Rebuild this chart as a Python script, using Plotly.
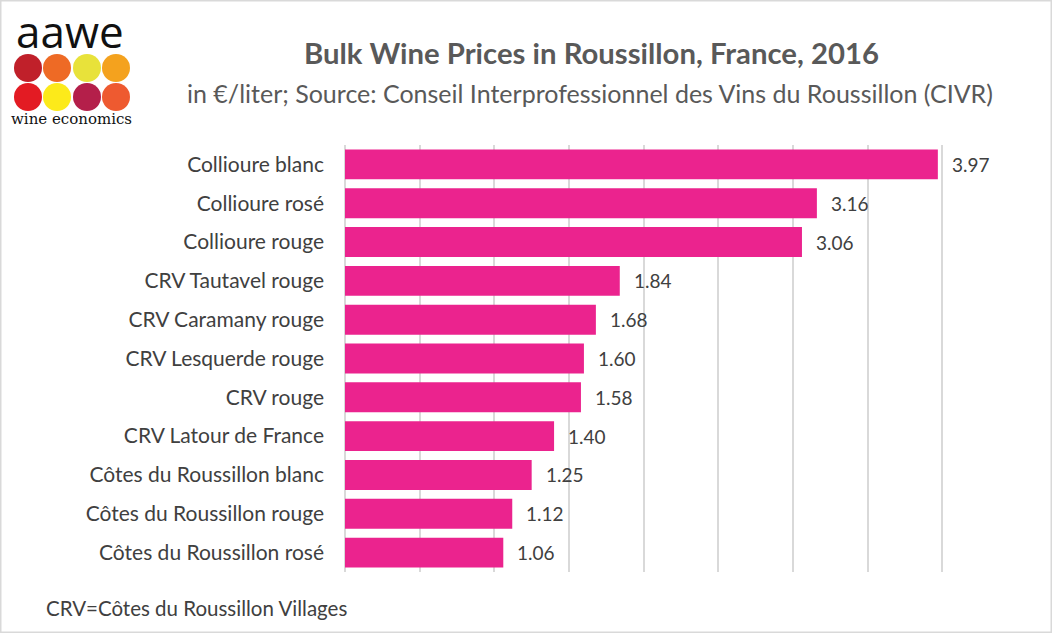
import plotly.graph_objects as go

categories = [
    "Collioure blanc", "Collioure rosé", "Collioure rouge", "CRV Tautavel rouge",
    "CRV Caramany rouge", "CRV Lesquerde rouge", "CRV rouge", "CRV Latour de France",
    "Côtes du Roussillon blanc", "Côtes du Roussillon rouge", "Côtes du Roussillon rosé",
]
prices = [3.97, 3.16, 3.06, 1.84, 1.68, 1.60, 1.58, 1.40, 1.25, 1.12, 1.06]
value_labels = [f"{v:.2f}" for v in prices]

title = "Bulk Wine Prices in Roussillon, France, 2016"
subtitle = "in €/liter; Source: Conseil Interprofessionnel des Vins du Roussillon (CIVR)"
footnote = "CRV=Côtes du Roussillon Villages"

W, H = 1052, 633
L, R, T, B = 345, 35, 145, 61
PW, PH = W - L - R, H - T - B
FONT = "Lato"
GREY = "#595959"

def px(x):
    return (x - L) / PW

def py(y):
    return (H - B - y) / PH

fig = go.Figure()
fig.add_trace(go.Bar(
    y=categories, x=prices, orientation="h",
    marker=dict(color="#EB238E", line=dict(width=0)),
    hoverinfo="skip",
))

annotations = []
for c, v, t in zip(categories, prices, value_labels):
    annotations.append(dict(x=v, y=c, xref="x", yref="y", text=t, showarrow=False,
                            xanchor="left", xshift=12, font=dict(size=19, color="#404040", family=FONT)))

annotations += [
    dict(x=px(591), y=py(53), xref="paper", yref="paper", text=f"<b>{title}</b>", showarrow=False,
         xanchor="center", yanchor="middle", font=dict(size=29.3, color=GREY, family=FONT)),
    dict(x=px(590), y=py(93), xref="paper", yref="paper", text=subtitle, showarrow=False,
         xanchor="center", yanchor="middle", font=dict(size=25, color=GREY, family=FONT)),
    dict(x=px(44), y=py(608), xref="paper", yref="paper", text=footnote, showarrow=False,
         xanchor="left", yanchor="middle", font=dict(size=20.5, color="#404040", family=FONT)),
    dict(x=px(70), y=py(31), xref="paper", yref="paper", text="aawe", showarrow=False,
         xanchor="center", yanchor="middle", font=dict(size=44, color="#111111", family="Open Sans")),
    dict(x=px(71), y=py(119), xref="paper", yref="paper", text="wine economics", showarrow=False,
         xanchor="center", yanchor="middle", font=dict(size=15, color="#111111", family="DejaVu Serif")),
]

shapes = []
logo_colors = [["#C0202A", "#EE6A25", "#E8E23A", "#F4A21E"],
               ["#E31B23", "#FCEA1A", "#B41F4A", "#EE5A30"]]
cx = [28, 57, 87, 116]
cy = [68, 97]
r = 14
for i, row in enumerate(logo_colors):
    for j, col in enumerate(row):
        shapes.append(dict(type="circle", xref="paper", yref="paper",
                           x0=px(cx[j] - r), x1=px(cx[j] + r), y0=py(cy[i] + r), y1=py(cy[i] - r),
                           fillcolor=col, line=dict(width=0), layer="above"))
shapes.append(dict(type="rect", xref="paper", yref="paper",
                   x0=px(0.75), x1=px(W - 0.75), y0=py(H - 0.75), y1=py(0.75),
                   line=dict(color="#D9D9D9", width=1.5), fillcolor="rgba(0,0,0,0)"))

fig.update_layout(
    width=W, height=H,
    margin=dict(l=L, r=R, t=T, b=B, autoexpand=False),
    paper_bgcolor="white", plot_bgcolor="white",
    showlegend=False, bargap=0.23,
    annotations=annotations, shapes=shapes,
    xaxis=dict(range=[0, 4.5], dtick=0.5, showgrid=True, gridcolor="#D9D9D9", gridwidth=1.5,
               showticklabels=False, zeroline=True, zerolinecolor="#D9D9D9", zerolinewidth=1.5,
               showline=False, fixedrange=True),
    yaxis=dict(categoryorder="array", categoryarray=categories[::-1],
               tickfont=dict(size=21, color="#404040", family=FONT),
               ticklabelstandoff=20, showgrid=False, showline=False, ticks="", fixedrange=True),
)

fig.write_html("out.html", config={"displayModeBar": False},
               post_script="document.body.style.margin='0';document.body.style.overflow='hidden';")
